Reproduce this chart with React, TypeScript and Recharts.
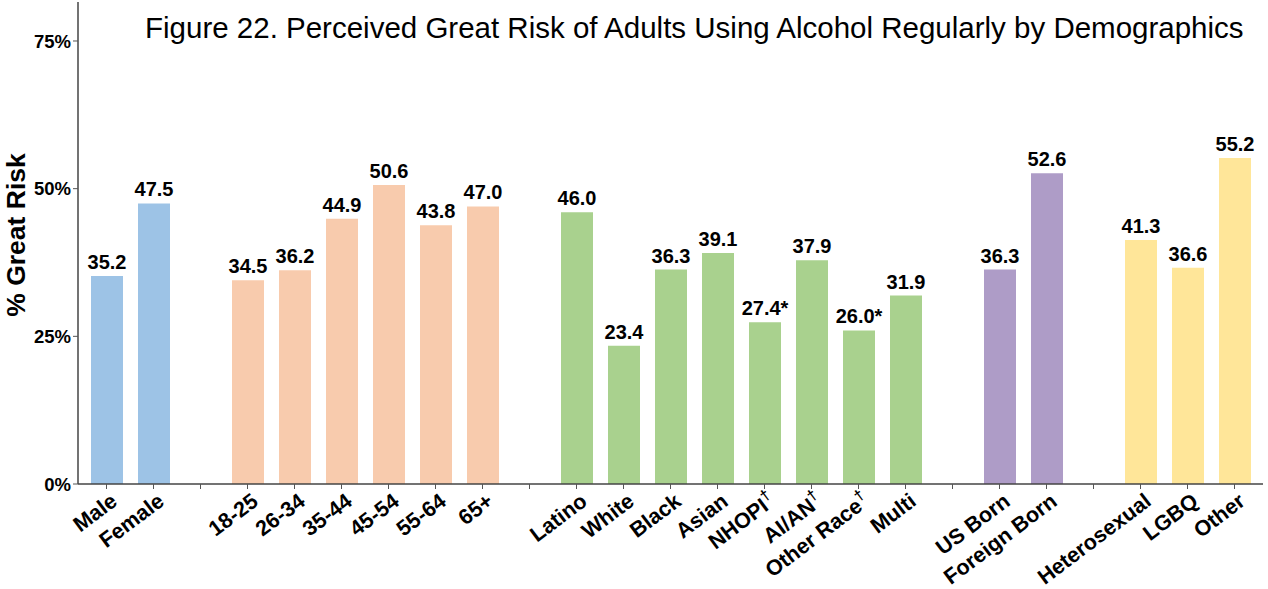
import React from 'react';
import { BarChart, Bar, XAxis, YAxis, Cell, LabelList } from 'recharts';

const sexLabels = ['Male', 'Female'];
const sexValues = [35.2, 47.5];
const ageLabels = ['18-25', '26-34', '35-44', '45-54', '55-64', '65+'];
const ageValues = [34.5, 36.2, 44.9, 50.6, 43.8, 47.0];
const raceLabels = ['Latino', 'White', 'Black', 'Asian', 'NHOPI', 'AI/AN', 'Other Race', 'Multi'];
const raceValues = [46.0, 23.4, 36.3, 39.1, 27.4, 37.9, 26.0, 31.9];
const raceDagger = ['NHOPI', 'AI/AN', 'Other Race'];
const raceStar = ['NHOPI', 'Other Race'];
const nativityLabels = ['US Born', 'Foreign Born'];
const nativityValues = [36.3, 52.6];
const orientLabels = ['Heterosexual', 'LGBQ', 'Other'];
const orientValues = [41.3, 36.6, 55.2];
const yTicks = [0, 25, 50, 75];

const groups = [
  { labels: sexLabels, values: sexValues, color: '#9DC3E6' },
  { labels: ageLabels, values: ageValues, color: '#F8CBAD' },
  { labels: raceLabels, values: raceValues, color: '#A9D18E' },
  { labels: nativityLabels, values: nativityValues, color: '#AE9CC7' },
  { labels: orientLabels, values: orientValues, color: '#FFE699' },
];

type Row = {
  key: string;
  name: string;
  value: number | null;
  color: string;
  dagger: boolean;
  text: string;
};

// one empty slot between groups
const rows: Row[] = [];
groups.forEach((g, gi) => {
  if (gi > 0) {
    rows.push({ key: `gap${gi}`, name: '', value: null, color: 'none', dagger: false, text: '' });
  }
  g.labels.forEach((name, i) => {
    const v = g.values[i];
    const isRace = g.labels === raceLabels;
    rows.push({
      key: `${gi}-${name}`,
      name,
      value: v,
      color: g.color,
      dagger: isRace && raceDagger.includes(name),
      text: v.toFixed(1) + (isRace && raceStar.includes(name) ? '*' : ''),
    });
  });
});

const FONT = '"Liberation Sans", Arial, sans-serif';

const CatTick = (props: any) => {
  const { x, y, payload } = props;
  const row = rows[payload.index];
  if (!row || !row.name) return null;
  return (
    <g transform={`translate(${x + 12},${y + 13})`}>
      <text
        x={0}
        y={0}
        transform="rotate(-37)"
        textAnchor="end"
        fontFamily={FONT}
        fontWeight="bold"
        fontSize={21.5}
        fill="#000"
      >
        {row.name}
        {row.dagger && (
          <tspan dy={-9} fontSize={15}>
            †
          </tspan>
        )}
      </text>
    </g>
  );
};

const ValueLabel = (props: any) => {
  const { x, y, width, value } = props;
  if (!value) return null;
  return (
    <text
      x={x + width / 2}
      y={y - 7}
      textAnchor="middle"
      fontFamily={FONT}
      fontWeight="bold"
      fontSize={20}
      fill="#000"
    >
      {value}
    </text>
  );
};

export default function App() {
  return (
    <div style={{ position: 'absolute', left: 0, top: 0, width: 1268, height: 589, background: '#fff' }}>
      <div
        style={{
          position: 'absolute',
          left: 145,
          top: 11,
          fontFamily: FONT,
          fontSize: 29.5,
          color: '#000',
          whiteSpace: 'nowrap',
        }}
      >
        Figure 22. Perceived Great Risk of Adults Using Alcohol Regularly by Demographics
      </div>
      <div
        style={{
          position: 'absolute',
          left: 16,
          top: 235,
          transform: 'translate(-50%, -50%) rotate(-90deg)',
          fontFamily: FONT,
          fontWeight: 'bold',
          fontSize: 26.5,
          color: '#000',
          whiteSpace: 'nowrap',
        }}
      >
        % Great Risk
      </div>
      <BarChart
        width={1268}
        height={589}
        data={rows}
        margin={{ top: 2, right: 5, bottom: 0, left: 0 }}
        barCategoryGap={0}
      >
        <XAxis
          dataKey="key"
          interval={0}
          height={105}
          padding={{ left: 5, right: 5 }}
          axisLine={{ stroke: '#444', strokeWidth: 1.5 }}
          tickLine={{ stroke: '#555' }}
          tickSize={5}
          tick={<CatTick />}
        />
        <YAxis
          type="number"
          width={78}
          domain={[0, 81.6]}
          ticks={yTicks}
          tickFormatter={(v: number) => `${v}%`}
          axisLine={{ stroke: '#444', strokeWidth: 1.5 }}
          tickLine={{ stroke: '#555' }}
          tickSize={5}
          tick={{ fontFamily: FONT, fontWeight: 'bold', fontSize: 18.5, fill: '#000' }}
        />
        <Bar dataKey="value" barSize={32} isAnimationActive={false}>
          {rows.map((r) => (
            <Cell key={r.key} fill={r.color} />
          ))}
          <LabelList dataKey="text" content={<ValueLabel />} />
        </Bar>
      </BarChart>
    </div>
  );
}
